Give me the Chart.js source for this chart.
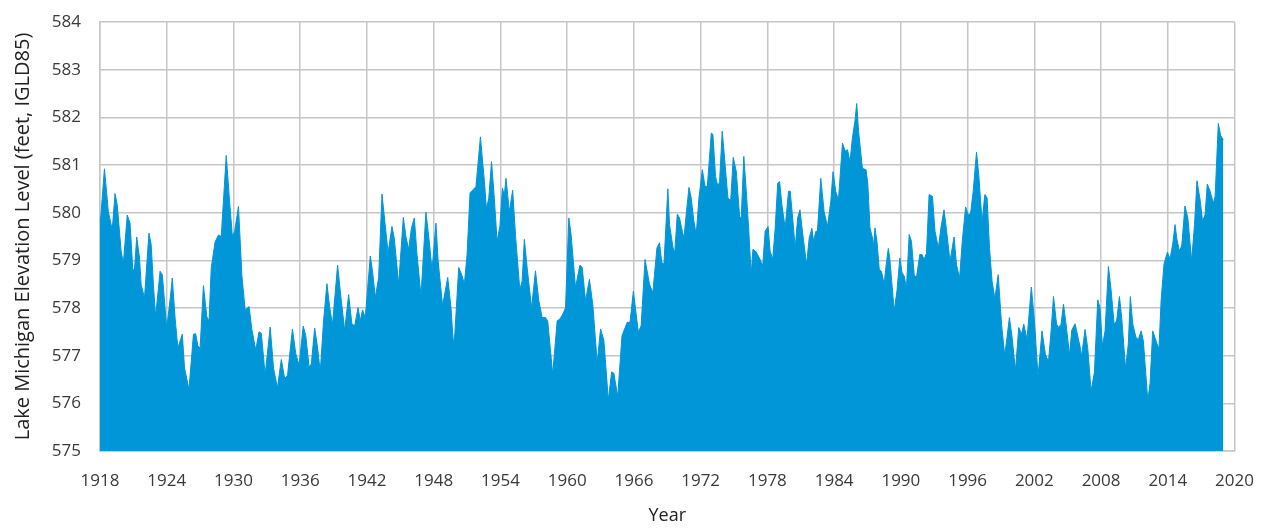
<!DOCTYPE html>
<html>
<head>
<meta charset="utf-8">
<script src="https://cdn.jsdelivr.net/npm/chart.js@4"></script>
<style>
  html, body { margin: 0; padding: 0; background: #fff; }
  canvas { display: block; }
</style>
</head>
<body>
<canvas id="levels" width="1274" height="531"></canvas>
<script>
// sample times (decimal year), peaks and troughs
const years = [
  1918.0, 1918.4, 1918.75, 1919.1, 1919.35, 1919.55, 1919.9, 1920.1, 1920.45, 1920.7, 1920.95, 1921.1, 1921.3, 1921.55, 1921.7, 1922.0, 1922.4, 1922.6, 1922.8,
  1923.0, 1923.4, 1923.6, 1924.0, 1924.3, 1924.5, 1924.75, 1925.0, 1925.4, 1925.6, 1926.0, 1926.4, 1926.6, 1926.8, 1927.0, 1927.3, 1927.6, 1927.8,
  1928.0, 1928.35, 1928.65, 1928.9, 1929.35, 1929.65, 1929.9, 1930.1, 1930.45, 1930.75, 1931.05, 1931.4, 1931.65, 1932.0, 1932.3, 1932.5, 1932.85,
  1933.3, 1933.6, 1933.95, 1934.3, 1934.6, 1934.86, 1935.3, 1935.6, 1935.9, 1936.27, 1936.5, 1936.8, 1937.0, 1937.3, 1937.55, 1937.8,
  1938.1, 1938.4, 1938.65, 1938.9, 1939.36, 1939.66, 1940.0, 1940.35, 1940.65, 1940.9, 1941.2, 1941.4, 1941.6, 1941.85, 1942.3, 1942.5, 1942.75,
  1943.05, 1943.35, 1943.65, 1943.9, 1944.25, 1944.45, 1944.85, 1945.27, 1945.5, 1945.75, 1946.0, 1946.26, 1946.5, 1946.86, 1947.3, 1947.6, 1947.85,
  1948.2, 1948.4, 1948.8, 1949.26, 1949.55, 1949.77, 1949.9, 1950.25, 1950.5, 1950.76, 1951.0, 1951.27, 1951.55, 1951.8, 1952.2, 1952.56, 1952.74, 1952.95,
  1953.2, 1953.45, 1953.7, 1953.95, 1954.18, 1954.35, 1954.5, 1954.8, 1955.1, 1955.35, 1955.74, 1955.95, 1956.15, 1956.4, 1956.8, 1957.15, 1957.45, 1957.75,
  1958.05, 1958.25, 1958.7, 1959.1, 1959.35, 1959.6, 1959.85, 1960.15, 1960.35, 1960.75, 1961.15, 1961.35, 1961.65, 1962.0, 1962.3, 1962.7,
  1963.0, 1963.3, 1963.7, 1964.0, 1964.2, 1964.54, 1964.93, 1965.4, 1965.65, 1965.95, 1966.4, 1966.65, 1967.0, 1967.4, 1967.7,
  1968.07, 1968.3, 1968.5, 1968.7, 1969.05, 1969.2, 1969.52, 1969.67, 1969.9, 1970.1, 1970.36, 1970.5, 1970.7, 1970.95, 1971.15, 1971.37, 1971.6, 1971.85, 1972.15, 1972.4, 1972.6, 1972.96,
  1973.1, 1973.34, 1973.55, 1973.7, 1973.94, 1974.15, 1974.45, 1974.7, 1974.93, 1975.2, 1975.5, 1975.65, 1975.88, 1976.1, 1976.33, 1976.54, 1976.7, 1976.95, 1977.28, 1977.58, 1977.8,
  1978.06, 1978.25, 1978.48, 1978.7, 1978.93, 1979.1, 1979.3, 1979.6, 1979.9, 1980.05, 1980.27, 1980.5, 1980.72, 1980.93, 1981.15, 1981.52, 1981.76, 1982.0, 1982.15, 1982.36, 1982.5, 1982.8,
  1983.1, 1983.4, 1983.7, 1983.9, 1984.15, 1984.39, 1984.75, 1985.0, 1985.2, 1985.43, 1985.64, 1985.88, 1986.03, 1986.2, 1986.54, 1986.87, 1987.03, 1987.22, 1987.45, 1987.55, 1987.67, 1987.85,
  1988.06, 1988.25, 1988.5, 1988.65, 1988.87, 1989.0, 1989.4, 1989.65, 1989.91, 1990.1, 1990.3, 1990.5, 1990.75, 1990.95, 1991.2, 1991.4, 1991.7, 1991.9, 1992.1, 1992.3, 1992.54, 1992.84,
  1993.07, 1993.37, 1993.6, 1993.88, 1994.1, 1994.42, 1994.78, 1995.0, 1995.28, 1995.52, 1995.82, 1996.05, 1996.27, 1996.5, 1996.8, 1997.0, 1997.3, 1997.55, 1997.75, 1997.97,
  1998.2, 1998.45, 1998.75, 1999.05, 1999.34, 1999.76, 2000.0, 2000.3, 2000.6, 2000.85, 2001.05, 2001.34, 2001.73, 2002.03, 2002.33, 2002.69, 2002.99,
  2003.27, 2003.5, 2003.72, 2004.0, 2004.2, 2004.4, 2004.62, 2004.85, 2005.16, 2005.37, 2005.66, 2005.9, 2006.1, 2006.25, 2006.56, 2006.8, 2007.1, 2007.4, 2007.7, 2007.9,
  2008.12, 2008.36, 2008.66, 2008.9, 2009.17, 2009.4, 2009.65, 2009.85, 2010.2, 2010.45, 2010.63, 2010.85, 2011.14, 2011.35, 2011.6, 2011.8, 2012.2, 2012.4, 2012.64,
  2013.0, 2013.2, 2013.4, 2013.66, 2013.96, 2014.2, 2014.44, 2014.65, 2014.8, 2015.03, 2015.25, 2015.54, 2015.8, 2015.99, 2016.14, 2016.4, 2016.62, 2016.92, 2017.12, 2017.35, 2017.55, 2017.8, 2018.09, 2018.25, 2018.54, 2018.75, 2018.99
];

// lake level in feet (IGLD85), same order as years
const levels = [
  579.7, 580.92, 580.02, 579.64, 580.4, 580.16, 579.19, 578.94, 579.95, 579.78, 578.8, 578.8, 579.49, 579.05, 578.49, 578.21, 579.57, 579.33, 578.49,
  577.82, 578.77, 578.7, 577.58, 578.17, 578.63, 577.79, 577.16, 577.45, 576.74, 576.29, 577.45, 577.46, 577.2, 577.16, 578.47, 577.82, 577.72,
  578.84, 579.39, 579.53, 579.5, 581.2, 580.23, 579.51, 579.6, 580.13, 578.7, 577.96, 578.03, 577.55, 577.12, 577.5, 577.47, 576.6,
  577.6, 576.74, 576.32, 576.92, 576.52, 576.59, 577.56, 577.04, 576.8, 577.62, 577.42, 576.76, 576.83, 577.58, 577.18, 576.66,
  577.73, 578.51, 578.01, 577.65, 578.9, 578.22, 577.53, 578.28, 577.66, 577.63, 578.01, 577.73, 577.96, 577.8, 579.09, 578.77, 578.22,
  578.64, 580.39, 579.72, 579.16, 579.71, 579.47, 578.5, 579.9, 579.5, 579.23, 579.68, 579.89, 579.12, 578.25, 580.01, 579.4, 578.79,
  579.78, 578.98, 578.05, 578.64, 578.02, 577.25, 577.46, 578.85, 578.71, 578.51, 579.12, 580.42, 580.48, 580.55, 581.59, 580.65, 580.08, 580.3,
  581.07, 580.3, 579.4, 579.71, 580.51, 580.37, 580.72, 580.02, 580.47, 579.54, 578.39, 578.56, 579.44, 578.85, 578.0, 578.78, 578.15, 577.8,
  577.8, 577.73, 576.61, 577.73, 577.77, 577.87, 578.0, 579.89, 579.54, 578.43, 578.9, 578.85, 578.15, 578.6, 578.08, 576.85,
  577.56, 577.32, 576.07, 576.66, 576.63, 576.14, 577.42, 577.7, 577.7, 578.35, 577.49, 577.63, 579.02, 578.5, 578.32,
  579.26, 579.37, 578.96, 578.92, 580.5, 579.75, 579.26, 579.16, 579.97, 579.89, 579.6, 579.47, 579.96, 580.53, 580.31, 579.85, 579.54, 580.31, 580.9, 580.55, 580.55, 581.67,
  581.64, 580.76, 580.55, 580.65, 581.71, 581.14, 580.31, 580.25, 581.16, 580.87, 579.92, 579.89, 581.18, 580.45, 579.61, 578.7, 579.23, 579.19, 579.05, 578.88, 579.61,
  579.71, 579.19, 579.02, 579.68, 580.62, 580.65, 580.17, 579.68, 580.45, 580.45, 579.89, 579.26, 579.89, 580.06, 579.61, 578.91, 579.47, 579.67, 579.4, 579.61, 579.61, 580.72,
  580.02, 579.71, 580.23, 580.86, 580.44, 580.27, 581.46, 581.29, 581.32, 581.07, 581.56, 581.94, 582.29, 581.7, 580.93, 580.9, 580.6, 579.68, 579.47, 579.3, 579.68, 579.4,
  578.81, 578.77, 578.5, 578.85, 579.25, 579.05, 577.94, 578.36, 579.05, 578.74, 578.67, 578.42, 579.54, 579.4, 578.7, 578.63, 579.12, 579.12, 579.02, 579.15, 580.38, 580.34,
  579.61, 579.26, 579.68, 580.06, 579.64, 578.98, 579.49, 578.91, 578.63, 579.4, 580.12, 579.95, 579.99, 580.44, 581.27, 580.8, 579.81, 580.38, 580.31, 579.25,
  578.56, 578.2, 578.7, 577.66, 577.0, 577.8, 577.38, 576.69, 577.59, 577.45, 577.66, 577.34, 578.44, 577.66, 576.56, 577.52, 577.03,
  576.88, 577.5, 578.24, 577.66, 577.59, 577.66, 578.08, 577.66, 577.02, 577.54, 577.67, 577.41, 577.2, 576.99, 577.55, 577.16, 576.26, 576.65, 578.17, 578.01,
  577.2, 577.52, 578.87, 578.38, 577.66, 577.73, 578.24, 577.8, 576.73, 577.25, 578.24, 577.66, 577.38, 577.34, 577.52, 577.31, 576.06, 576.41, 577.52,
  577.27, 577.14, 578.17, 578.93, 579.17, 579.03, 579.34, 579.75, 579.47, 579.2, 579.3, 580.14, 579.89, 579.38, 578.99, 579.75, 580.67, 580.24, 579.82, 579.96, 580.6, 580.45, 580.2, 580.34, 581.87, 581.62, 581.53
];

const yearTicks = { min: 1918, max: 2020, step: 6 };
const levelTicks = { min: 575, max: 584, step: 1 };

const FONT = '"Open Sans", "Noto Sans", sans-serif';
const GRID = '#c6c6c6';

const points = years.map((yr, i) => ({ x: yr, y: levels[i] }));

new Chart(document.getElementById('levels'), {
  type: 'line',
  data: {
    datasets: [{
      data: points,
      fill: 'start',
      backgroundColor: '#0096d8',
      borderColor: '#0096d8',
      borderWidth: 1,
      pointRadius: 0,
      tension: 0
    }]
  },
  options: {
    responsive: false,
    animation: false,
    devicePixelRatio: 1,
    layout: { padding: { top: 22, right: 37, bottom: 0, left: 0 } },
    plugins: {
      legend: { display: false },
      tooltip: { enabled: false }
    },
    scales: {
      x: {
        type: 'linear',
        min: yearTicks.min,
        max: yearTicks.max,
        afterFit: s => { s.height = 80; },
        ticks: {
          stepSize: yearTicks.step,
          padding: 20,
          color: '#3a3a3a',
          font: { family: FONT, size: 17 },
          maxRotation: 0,
          callback: v => String(v)
        },
        grid: { color: GRID, lineWidth: 1.5, drawTicks: false },
        border: { color: GRID, width: 1.5 },
        title: {
          display: true,
          text: 'Year',
          color: '#222',
          font: { family: FONT, size: 18 },
          padding: { top: 0, bottom: 4 }
        }
      },
      y: {
        min: levelTicks.min,
        max: levelTicks.max,
        // fixed axis width; drop the label padding Chart.js adds above the top tick
        afterFit: s => { s.width = 100; s.paddingTop = 0; s.paddingBottom = 0; },
        ticks: {
          stepSize: levelTicks.step,
          padding: 19,
          color: '#3a3a3a',
          font: { family: FONT, size: 17 }
        },
        grid: { color: GRID, lineWidth: 1.5, drawTicks: false },
        border: { color: GRID, width: 1.5 },
        title: {
          display: true,
          text: 'Lake Michigan Elevation Level (feet, IGLD85)',
          color: '#222',
          font: { family: FONT, size: 20 },
          padding: { top: 11, bottom: 0 }
        }
      }
    }
  }
});
</script>
</body>
</html>
